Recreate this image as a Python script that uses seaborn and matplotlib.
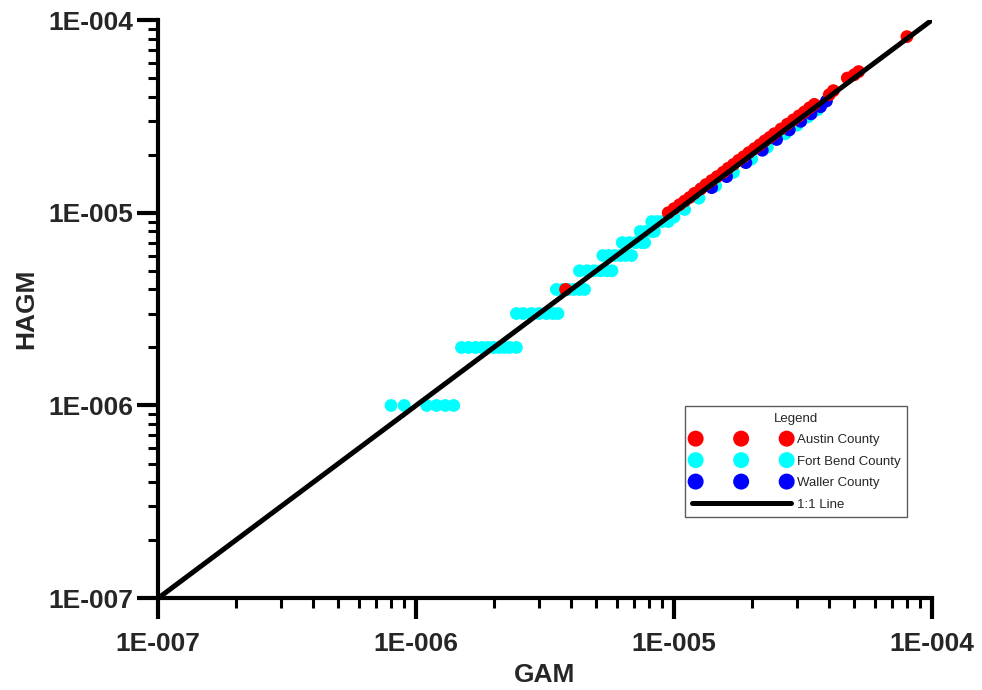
import matplotlib
matplotlib.use("Agg")
import matplotlib.pyplot as plt
import matplotlib.ticker as mticker
import seaborn as sns
import pandas as pd
import numpy as np

# ---------------- data ----------------
fortbend_gam = [0.8e-6, 0.9e-6, 1.1e-6, 1.2e-6, 1.3e-6, 1.4e-6,
                1.5e-6, 1.6e-6, 1.7e-6, 1.8e-6, 1.9e-6, 2.0e-6, 2.1e-6, 2.2e-6, 2.3e-6, 2.45e-6,
                2.45e-6, 2.6e-6, 2.8e-6, 3.0e-6, 3.2e-6, 3.4e-6, 3.55e-6,
                3.5e-6, 3.7e-6, 3.9e-6, 4.1e-6, 4.3e-6, 4.5e-6,
                4.3e-6, 4.6e-6, 4.9e-6, 5.2e-6, 5.5e-6, 5.75e-6,
                5.3e-6, 5.6e-6, 5.9e-6, 6.2e-6, 6.5e-6, 6.85e-6,
                6.3e-6, 6.7e-6, 7.1e-6, 7.5e-6, 7.7e-6,
                7.4e-6, 7.8e-6, 8.2e-6, 8.4e-6,
                8.2e-6, 8.6e-6, 9.0e-6, 9.5e-6,
                1.0e-5, 1.1e-5, 1.25e-5, 1.45e-5, 1.7e-5, 2.0e-5, 2.3e-5, 2.7e-5, 3.0e-5, 3.3e-5, 3.6e-5]
fortbend_hagm = [1e-6] * 6 + [2e-6] * 10 + [3e-6] * 7 + [4e-6] * 6 + [5e-6] * 6 + [6e-6] * 6 + \
                [7e-6] * 5 + [8e-6] * 4 + [9e-6] * 4 + \
                [0.95e-5, 1.04e-5, 1.19e-5, 1.38e-5, 1.62e-5, 1.9e-5, 2.19e-5, 2.57e-5, 2.85e-5, 3.14e-5, 3.42e-5]

waller_gam = [1.4e-5, 1.6e-5, 1.9e-5, 2.2e-5, 2.5e-5, 2.8e-5, 3.1e-5, 3.4e-5, 3.7e-5, 3.9e-5]
waller_hagm = [1.35e-5, 1.54e-5, 1.82e-5, 2.11e-5, 2.4e-5, 2.69e-5, 2.98e-5, 3.26e-5, 3.55e-5, 3.8e-5]

austin_gam = [3.8e-6, 0.95e-5, 1.0e-5, 1.05e-5, 1.1e-5, 1.15e-5, 1.2e-5, 1.27e-5, 1.33e-5, 1.4e-5,
              1.47e-5, 1.55e-5, 1.62e-5, 1.7e-5, 1.78e-5, 1.86e-5, 1.95e-5, 2.05e-5, 2.15e-5,
              2.25e-5, 2.35e-5, 2.45e-5, 2.6e-5, 2.75e-5, 2.9e-5, 3.05e-5, 3.2e-5, 3.35e-5,
              3.5e-5, 4.0e-5, 4.15e-5, 4.7e-5, 5.0e-5, 5.2e-5, 8.0e-5]
austin_hagm = [4.0e-6, 1.0e-5, 1.05e-5, 1.1e-5, 1.15e-5, 1.2e-5, 1.26e-5, 1.33e-5, 1.4e-5, 1.47e-5,
               1.54e-5, 1.62e-5, 1.7e-5, 1.78e-5, 1.87e-5, 1.95e-5, 2.05e-5, 2.15e-5, 2.25e-5,
               2.36e-5, 2.46e-5, 2.57e-5, 2.72e-5, 2.88e-5, 3.03e-5, 3.18e-5, 3.33e-5, 3.5e-5,
               3.65e-5, 4.1e-5, 4.3e-5, 5.0e-5, 5.2e-5, 5.4e-5, 8.2e-5]

line_x = [1e-7, 1e-4]
line_y = [1e-7, 1e-4]

tick_vals = [1e-7, 1e-6, 1e-5, 1e-4]
tick_labels = ["1E-007", "1E-006", "1E-005", "1E-004"]

series = [("Fort Bend County", fortbend_gam, fortbend_hagm, "#00FFFF"),
          ("Waller County", waller_gam, waller_hagm, "#0000FF"),
          ("Austin County", austin_gam, austin_hagm, "#FF0000")]

# ---------------- plot ----------------
sns.set_style("white")
plt.rcParams['font.family'] = ['Liberation Sans', 'DejaVu Sans']

fig = plt.figure(figsize=(9.82, 6.9), dpi=100)
ax = fig.add_axes([0.161, 0.133, 0.788, 0.838])

handles = {}
for name, gx, gy, col in series:
    df = pd.DataFrame({"GAM": gx, "HAGM": gy})
    sns.scatterplot(data=df, x="GAM", y="HAGM", color=col, s=85, edgecolor="none",
                    linewidth=0, ax=ax, label=name, zorder=3)
    handles[name] = ax.collections[-1]

ln, = ax.plot(line_x, line_y, color="black", lw=3.6, solid_capstyle="round", zorder=4, label="1:1 Line")

ax.set_xscale("log")
ax.set_yscale("log")
ax.set_xlim(1e-7, 1e-4)
ax.set_ylim(1e-7, 1e-4)

ax.set_xticks(tick_vals)
ax.set_xticklabels(tick_labels)
ax.set_yticks(tick_vals)
ax.set_yticklabels(tick_labels)
ax.xaxis.set_minor_locator(mticker.LogLocator(base=10, subs=np.arange(2, 10)))
ax.yaxis.set_minor_locator(mticker.LogLocator(base=10, subs=np.arange(2, 10)))
ax.xaxis.set_minor_formatter(mticker.NullFormatter())
ax.yaxis.set_minor_formatter(mticker.NullFormatter())

for s in ["top", "right"]:
    ax.spines[s].set_visible(False)
for s in ["left", "bottom"]:
    ax.spines[s].set_linewidth(3)
    ax.spines[s].set_color("black")

ax.tick_params(which="major", direction="out", length=15, width=3, color="black",
               labelsize=19)
ax.tick_params(axis="x", which="major", pad=9)
ax.tick_params(axis="y", which="major", pad=3)
ax.tick_params(which="minor", direction="out", length=7.5, width=2.2, color="black")
ax.tick_params(axis="both", which="both", bottom=True, left=True, top=False, right=False)
for lab in ax.get_xticklabels() + ax.get_yticklabels():
    lab.set_fontweight("bold")

ax.set_xlabel("GAM", fontsize=19, fontweight="bold", labelpad=5)
ax.set_ylabel("HAGM", fontsize=19, fontweight="bold", labelpad=7)
ax.grid(False)

leg = ax.legend([handles["Austin County"], handles["Fort Bend County"], handles["Waller County"], ln],
                ["Austin County", "Fort Bend County", "Waller County", "1:1 Line"],
                title="Legend", loc="lower left", bbox_to_anchor=(0.681, 0.140),
                scatterpoints=3, scatteryoffsets=[0.5], markerscale=1.25, fontsize=9.5,
                title_fontsize=9.5, handlelength=7.5, handletextpad=0.5, labelspacing=0.7,
                frameon=True, fancybox=False, borderpad=0.5, borderaxespad=0)
leg.get_frame().set_edgecolor("#333333")
leg.get_frame().set_linewidth(1)
leg.set_zorder(10)

fig.savefig("out.png", dpi=100)
